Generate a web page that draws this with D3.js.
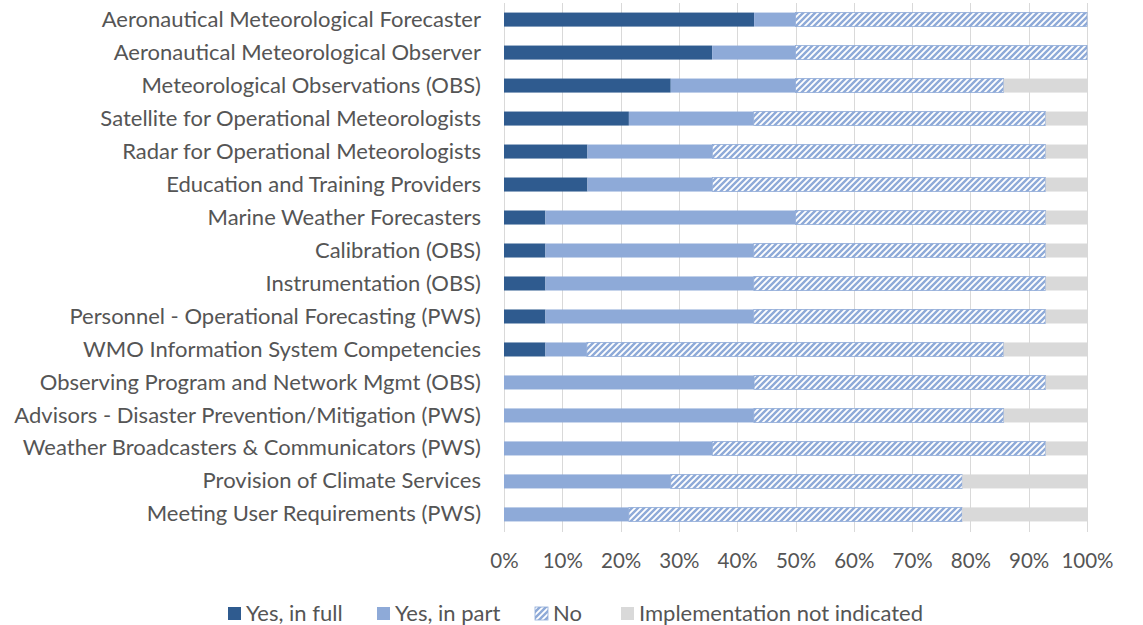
<!DOCTYPE html>
<html>
<head>
<meta charset="utf-8">
<script src="https://cdn.jsdelivr.net/npm/d3@7"></script>
<style>
  html, body { margin: 0; padding: 0; background: #ffffff; }
  svg { display: block; }
  text { font-family: Lato, "Open Sans", sans-serif; fill: #555555; }
</style>
</head>
<body>
<svg id="chart" width="1143" height="625"></svg>
<script>
const categories = [
  "Aeronautical Meteorological Forecaster",
  "Aeronautical Meteorological Observer",
  "Meteorological Observations (OBS)",
  "Satellite for Operational Meteorologists",
  "Radar for Operational Meteorologists",
  "Education and Training Providers",
  "Marine Weather Forecasters",
  "Calibration (OBS)",
  "Instrumentation (OBS)",
  "Personnel - Operational Forecasting (PWS)",
  "WMO Information System Competencies",
  "Observing Program and Network Mgmt (OBS)",
  "Advisors - Disaster Prevention/Mitigation (PWS)",
  "Weather Broadcasters & Communicators (PWS)",
  "Provision of Climate Services",
  "Meeting User Requirements (PWS)"
];
const seriesNames = ["Yes, in full", "Yes, in part", "No", "Implementation not indicated"];
const yesFull      = [42.9, 35.7, 28.6, 21.4, 14.3, 14.3, 7.1, 7.1, 7.1, 7.1, 7.1, 0, 0, 0, 0, 0];
const yesPart      = [7.1, 14.3, 21.4, 21.4, 21.4, 21.4, 42.9, 35.7, 35.7, 35.7, 7.1, 42.9, 42.9, 35.7, 28.6, 21.4];
const no           = [50.0, 50.0, 35.7, 50.0, 57.1, 57.1, 42.9, 50.0, 50.0, 50.0, 71.4, 50.0, 42.9, 57.1, 50.0, 57.1];
const notIndicated = [0, 0, 14.3, 7.1, 7.1, 7.1, 7.1, 7.1, 7.1, 7.1, 14.3, 7.1, 14.3, 7.1, 21.4, 21.4];
const xTicks = [0, 0.1, 0.2, 0.3, 0.4, 0.5, 0.6, 0.7, 0.8, 0.9, 1.0];

const svg = d3.select("#chart");
const defs = svg.append("defs");
const darkBlue = "#2f5b8f", lightBlue = "#8eaad8", grey = "#d9d9d9";

const pat = defs.append("pattern")
  .attr("id", "hatch").attr("patternUnits", "userSpaceOnUse")
  .attr("width", 6).attr("height", 6);
pat.append("rect").attr("width", 6).attr("height", 6).attr("fill", "#ffffff");
pat.append("path").attr("d", "M-1,7 L7,-1 M-1,1 L1,-1 M5,7 L7,5")
  .attr("stroke", lightBlue).attr("stroke-width", 2.4);

const fills = [darkBlue, lightBlue, "url(#hatch)", grey];
const keys = ["full", "part", "no", "ni"];

const rows = categories.map((c, i) => ({
  cat: c, full: yesFull[i], part: yesPart[i], no: no[i], ni: notIndicated[i]
}));
const stacked = d3.stack().keys(keys).offset(d3.stackOffsetExpand)(rows);

const x = d3.scaleLinear().domain([0, 1]).range([504, 1087]);
const y = d3.scaleBand().domain(categories).range([3, 531]).paddingInner(0.575).paddingOuter(0.29);

// gridlines
svg.append("g").selectAll("line").data(xTicks).join("line")
  .attr("x1", d => Math.round(x(d)) + 0.5).attr("x2", d => Math.round(x(d)) + 0.5)
  .attr("y1", 3).attr("y2", 532)
  .attr("stroke", "#d9d9d9").attr("stroke-width", 1);

// bars
svg.append("g").selectAll("g").data(stacked).join("g")
  .attr("fill", (d, i) => fills[i])
  .selectAll("rect").data(d => d.map(v => Object.assign(v, {key: d.key}))).join("rect")
  .attr("x", d => x(d[0]))
  .attr("y", d => y(d.data.cat))
  .attr("width", d => Math.max(0, x(d[1]) - x(d[0])))
  .attr("height", y.bandwidth())
  .attr("stroke", d => d.key === "no" && d[1] - d[0] > 0 ? lightBlue : "none")
  .attr("stroke-width", 0.8);

// y axis labels
const yAxis = d3.axisLeft(y).tickSize(0).tickPadding(23);
const gy = svg.append("g").attr("transform", "translate(504,0)").call(yAxis);
gy.select(".domain").remove();
gy.selectAll("text").style("font-size", "22px").style("fill", "#555555")
  .style("font-family", "Lato, 'Open Sans', sans-serif");

// x axis labels
const xAxis = d3.axisBottom(x).tickValues(xTicks).tickFormat(d3.format(".0%")).tickSize(0).tickPadding(0);
const gx = svg.append("g").attr("transform", "translate(0,553)").call(xAxis);
gx.select(".domain").remove();
gx.selectAll("text").attr("dy", "0.71em").style("font-size", "20.5px").style("fill", "#555555")
  .style("font-family", "Lato, 'Open Sans', sans-serif");

// legend
const legendX = [228, 377, 535, 621];
const lg = svg.append("g").selectAll("g").data(seriesNames).join("g")
  .attr("transform", (d, i) => `translate(${legendX[i]},0)`);
lg.append("rect").attr("x", 0).attr("y", 607).attr("width", 13).attr("height", 13)
  .attr("fill", (d, i) => fills[i])
  .attr("stroke", (d, i) => i === 2 ? lightBlue : "none").attr("stroke-width", 0.8);
lg.append("text").attr("x", 18).attr("y", 621).text(d => d)
  .style("font-size", "22px");
</script>
</body>
</html>
